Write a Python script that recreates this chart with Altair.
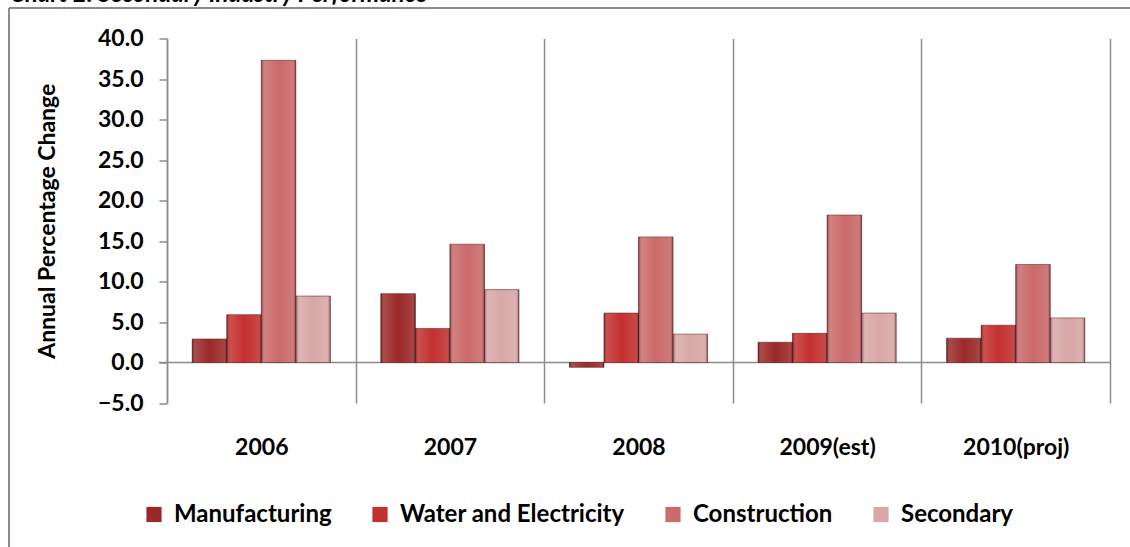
import altair as alt
import pandas as pd

# Annual percentage change by sub-sector of secondary industry
years = ["2006", "2007", "2008", "2009(est)", "2010(proj)"]
series = ["Manufacturing", "Water and Electricity", "Construction", "Secondary"]
manufacturing = [2.9, 8.5, -0.6, 2.5, 3.0]
water_electricity = [5.9, 4.2, 6.1, 3.6, 4.6]
construction = [37.3, 14.6, 15.5, 18.2, 12.1]
secondary = [8.2, 9.0, 3.5, 6.1, 5.5]
colors = ["#9c2929", "#c3302f", "#cb6a6a", "#d9a7a7"]
y_ticks = [-5, 0, 5, 10, 15, 20, 25, 30, 35, 40]
title_text = "Chart 2: Secondary Industry Performance"

rows = []
for name, vals in zip(series, [manufacturing, water_electricity, construction, secondary]):
    for yr, v in zip(years, vals):
        rows.append({"year": yr, "series": name, "value": v})
df = pd.DataFrame(rows)

W, H = 943, 364.5
FONT = "Lato"
GREY = "#8c8c8c"

x_enc = alt.X(
    "year:N",
    sort=years,
    scale=alt.Scale(paddingInner=0, paddingOuter=0),
    axis=alt.Axis(
        title=None,
        domain=False,
        ticks=False,
        grid=True,
        tickBand="extent",
        gridColor=GREY,
        gridWidth=1.5,
        labelAngle=0,
        labelFont=FONT,
        labelFontSize=23,
        labelFontWeight="bold",
        labelColor="#000000",
        labelPadding=33,
    ),
)
xo_enc = alt.XOffset("series:N", sort=series, scale=alt.Scale(paddingOuter=0.73, paddingInner=0))
y_enc = alt.Y(
    "value:Q",
    scale=alt.Scale(domain=[-5, 40], nice=False, zero=False),
    axis=alt.Axis(
        title="Annual Percentage Change",
        titleFont=FONT,
        titleFontSize=23,
        titleFontWeight="bold",
        titleColor="#000000",
        titlePadding=38,
        values=y_ticks,
        format=".1f",
        grid=False,
        domainColor=GREY,
        domainWidth=1.5,
        tickColor=GREY,
        tickWidth=1.5,
        tickSize=8,
        labelFont=FONT,
        labelFontSize=23,
        labelFontWeight="bold",
        labelColor="#000000",
        labelPadding=16,
    ),
)

one = alt.Data(values=[{}])

# horizontal axis line at zero
zero_line = alt.Chart(one).mark_rule(color=GREY, strokeWidth=1.5).encode(
    y=alt.datum(0, scale=alt.Scale(domain=[-5, 40], nice=False, zero=False)),
    x=alt.value(-8),
    x2=alt.value(W),
)

bars = alt.Chart(df).mark_bar(stroke="#5a1c1c", strokeWidth=0.8, strokeOpacity=0.7).encode(
    x=x_enc,
    xOffset=xo_enc,
    y=y_enc,
    color=alt.Color(
        "series:N",
        sort=series,
        scale=alt.Scale(domain=series, range=colors),
        legend=alt.Legend(
            title=None,
            orient="none",
            direction="horizontal",
            legendX=-25,
            legendY=464,
            symbolType="square",
            symbolSize=230,
            symbolStrokeWidth=0,
            labelFont=FONT,
            labelFontSize=24,
            labelFontWeight="bold",
            labelColor="#000000",
            labelOffset=8,
            labelLimit=0,
            columnPadding=36,
        ),
    ),
)

# bevel-like shading over each bar
shade = alt.Chart(df).mark_bar(
    fill=alt.Gradient(
        gradient="linear",
        x1=0, x2=1, y1=0, y2=0,
        stops=[
            alt.GradientStop(offset=0, color="rgba(40,0,0,0.45)"),
            alt.GradientStop(offset=0.1, color="rgba(255,255,255,0.15)"),
            alt.GradientStop(offset=0.5, color="rgba(255,255,255,0.0)"),
            alt.GradientStop(offset=0.9, color="rgba(255,255,255,0.1)"),
            alt.GradientStop(offset=1, color="rgba(40,0,0,0.5)"),
        ],
    )
).encode(x=x_enc, xOffset=xo_enc, y=y_enc)

# outer frame lines
frame_top = alt.Chart(one).mark_rule(color=GREY, strokeWidth=2).encode(
    x=alt.value(-158), x2=alt.value(1000), y=alt.value(-30.5)
)
frame_left = alt.Chart(one).mark_rule(color=GREY, strokeWidth=2).encode(
    x=alt.value(-158), y=alt.value(-30.5), y2=alt.value(H + 200)
)

heading = alt.Chart(one).mark_text(
    align="left", baseline="alphabetic", font=FONT, fontSize=24,
    fontWeight="bold", fontStyle="italic", color="#000000",
).encode(x=alt.value(-157), y=alt.value(-37), text=alt.value(title_text))

chart = alt.layer(heading, frame_top, frame_left, zero_line, bars, shade).properties(
    width=W,
    height=H,
    padding={"left": 167, "top": 38.5, "right": 20, "bottom": 144},
    autosize=alt.AutoSizeParams(type="none"),
    background="#ffffff",
).configure_view(stroke=None)

chart.save("out.html", embed_options={"renderer": "svg", "actions": False})
